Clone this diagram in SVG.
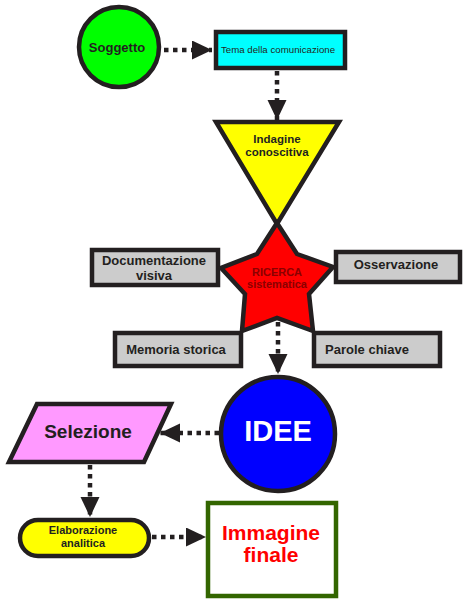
<svg xmlns="http://www.w3.org/2000/svg" width="463" height="600" viewBox="0 0 463 600">
<style>
text{font-family:"Liberation Sans",Arial,sans-serif;font-weight:bold;text-anchor:middle;fill:#231f20}
.shape{stroke:#231f20;stroke-width:4.5}
.grey{fill:#cccccc}
.conn{stroke:#231f20;stroke-width:4.5;stroke-dasharray:4.5,4.5;fill:none;marker-end:url(#ah)}
</style>
<defs>
<marker id="ah" markerUnits="userSpaceOnUse" markerWidth="22" markerHeight="20" refX="20" refY="9.5" orient="auto">
<path d="M0,0 L20,9.5 L0,19 Z" fill="#231f20"/>
</marker>
</defs>
<g id="connectors">
<line class="conn" x1="164" y1="50" x2="212" y2="50"/>
<line class="conn" x1="277" y1="71" x2="277" y2="120"/>
<line class="conn" x1="278" y1="322" x2="278" y2="374"/>
<line class="conn" x1="219" y1="433" x2="160" y2="433"/>
<line class="conn" x1="90" y1="465" x2="90" y2="517"/>
<line class="conn" x1="152" y1="537" x2="206" y2="537"/>
</g>
<g id="soggetto">
<circle class="shape" cx="119" cy="47" r="40" fill="#00ff00"/>
<text x="117" y="52" font-size="13">Soggetto</text>
</g>
<g id="tema">
<rect class="shape" x="216" y="32" width="129" height="36" fill="#00ffff"/>
<text x="278" y="53" font-size="9.7" style="font-weight:normal">Tema della comunicazione</text>
</g>
<g id="indagine">
<polygon class="shape" points="216,122 339,122 277,224" fill="#ffff00"/>
<text x="277" y="143" font-size="11.5">Indagine</text>
<text x="277" y="156" font-size="11.5">conoscitiva</text>
</g>
<g id="documentazione">
<rect class="shape grey" x="92" y="250" width="126" height="35"/>
<text x="154" y="265" font-size="13">Documentazione</text>
<text x="154" y="280" font-size="13">visiva</text>
</g>
<g id="osservazione">
<rect class="shape grey" x="336" y="252" width="124" height="30"/>
<text x="396" y="269" font-size="13">Osservazione</text>
</g>
<g id="memoria">
<rect class="shape grey" x="115" y="333" width="126" height="33"/>
<text x="176" y="354" font-size="13">Memoria storica</text>
</g>
<g id="parole">
<rect class="shape grey" x="314" y="333" width="126" height="33"/>
<text x="367" y="354" font-size="13">Parole chiave</text>
</g>
<g id="ricerca">
<polygon class="shape" points="277,223 297,254 333,267 309,294 313,331 277,318 242,331 245,294 221,268 257,254" fill="#ff0000" stroke-linejoin="miter"/>
<text x="277" y="276" font-size="11" style="fill:#8b0000">RICERCA</text>
<text x="277" y="288" font-size="11" style="fill:#8b0000">sistematica</text>
</g>
<g id="idee">
<circle class="shape" cx="278" cy="434" r="57" fill="#0000ff"/>
<text x="278" y="441" font-size="29" style="fill:#ffffff">IDEE</text>
</g>
<g id="selezione">
<polygon class="shape" points="37,404 171,404 144,462 9,462" fill="#ff99ff"/>
<text x="88" y="438" font-size="19">Selezione</text>
</g>
<g id="elaborazione">
<rect class="shape" x="20" y="520" width="129" height="36" rx="18" fill="#ffff00"/>
<text x="83" y="534" font-size="11">Elaborazione</text>
<text x="83" y="547" font-size="11">analitica</text>
</g>
<g id="immagine">
<rect class="shape" x="208" y="503" width="128" height="93" fill="#ffffff" style="stroke:#336600"/>
<text x="271" y="540" font-size="21" style="fill:#ff0000">Immagine</text>
<text x="271" y="562" font-size="21" style="fill:#ff0000">finale</text>
</g>
</svg>
